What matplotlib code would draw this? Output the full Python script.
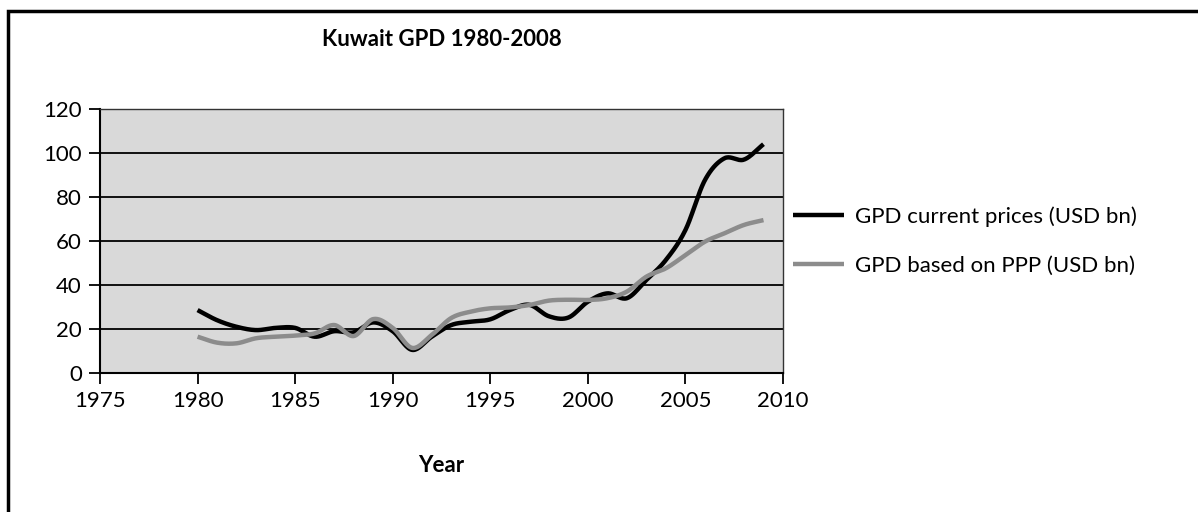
import numpy as np
import matplotlib.pyplot as plt
from matplotlib.patches import Rectangle

plt.rcParams['font.family'] = ['Lato', 'DejaVu Sans']

# ======================== 数据 ========================
years = list(range(1980, 2010))
gdp_current = [28.6, 24.0, 21.0, 19.5, 20.5, 20.5, 16.5, 19.0, 18.5, 23.0,
               19.0, 10.5, 16.5, 21.8, 23.3, 24.4, 28.6, 31.0, 25.8, 25.2,
               32.4, 36.2, 34.0, 42.3, 51.4, 65.0, 87.7, 97.6, 97.0, 104.0]
gdp_ppp = [16.5, 13.8, 13.5, 15.8, 16.5, 17.0, 18.0, 21.8, 16.8, 24.5,
           20.5, 11.4, 17.3, 25.0, 27.9, 29.4, 29.8, 30.9, 32.9, 33.3,
           33.2, 34.0, 37.0, 43.8, 47.6, 53.6, 59.7, 63.5, 67.3, 69.5]
series_labels = ['GPD current prices (USD bn)', 'GPD based on PPP (USD bn)']
title = 'Kuwait GPD 1980-2008'
x_label = 'Year'


# 平滑曲线（类似 Excel 的 smoothed line）
def smooth(x, y, n=20):
    x = np.asarray(x, float)
    y = np.asarray(y, float)
    px = np.concatenate([[2 * x[0] - x[1]], x, [2 * x[-1] - x[-2]]])
    py = np.concatenate([[2 * y[0] - y[1]], y, [2 * y[-1] - y[-2]]])
    xs, ys = [], []
    t = np.linspace(0, 1, n, endpoint=False)
    for i in range(1, len(px) - 2):
        for arr, out in ((px, xs), (py, ys)):
            p0, p1, p2, p3 = arr[i - 1], arr[i], arr[i + 1], arr[i + 2]
            out.extend(0.5 * ((2 * p1) + (-p0 + p2) * t
                              + (2 * p0 - 5 * p1 + 4 * p2 - p3) * t ** 2
                              + (-p0 + 3 * p1 - 3 * p2 + p3) * t ** 3))
    xs.append(x[-1])
    ys.append(y[-1])
    return np.array(xs), np.array(ys)


fig = plt.figure(figsize=(11.98, 5.12), dpi=100)
ax = fig.add_axes([100 / 1198, 1 - 373 / 512, 683 / 1198, 264 / 512])
ax.set_facecolor('#d9d9d9')

# 外框
fig.patches.append(Rectangle((8 / 1198, -0.1), 1.2, 1.1 - 11 / 512,
                             transform=fig.transFigure, fill=False,
                             edgecolor='black', linewidth=2.5))

ax.set_xlim(1975, 2010)
ax.set_ylim(0, 120)
ax.set_xticks(range(1975, 2011, 5))
ax.set_yticks(range(0, 121, 20))
ax.yaxis.grid(True, color='black', linewidth=1.3)
ax.set_axisbelow(True)
ax.tick_params(axis='both', direction='out', length=8, width=1.3,
               labelsize=16, colors='black')
ax.tick_params(axis='y', pad=5)
ax.tick_params(axis='x', pad=5)
for side in ['left', 'bottom']:
    ax.spines[side].set_color('black')
    ax.spines[side].set_linewidth(1.5)
for side in ['top', 'right']:
    ax.spines[side].set_color('#333333')
    ax.spines[side].set_linewidth(1.0)

sx, sy = smooth(years, gdp_current)
ax.plot(sx, sy, color='black', linewidth=3.2, label=series_labels[0],
        solid_capstyle='butt', zorder=3)
sx, sy = smooth(years, gdp_ppp)
ax.plot(sx, sy, color='#8c8c8c', linewidth=3.2, label=series_labels[1],
        solid_capstyle='butt', zorder=3)

fig.text(442 / 1198, 1 - 40 / 512, title, ha='center', va='center',
         fontsize=16, fontweight='bold')
fig.text(441 / 1198, 1 - 465 / 512, x_label, ha='center', va='center',
         fontsize=16, fontweight='bold')

leg = ax.legend(loc='center left', bbox_to_anchor=(1.0, 0.5), frameon=False,
                fontsize=16, handlelength=2.3, handletextpad=0.5,
                labelspacing=1.3, borderaxespad=0.05)

plt.savefig('out.png', dpi=100)
